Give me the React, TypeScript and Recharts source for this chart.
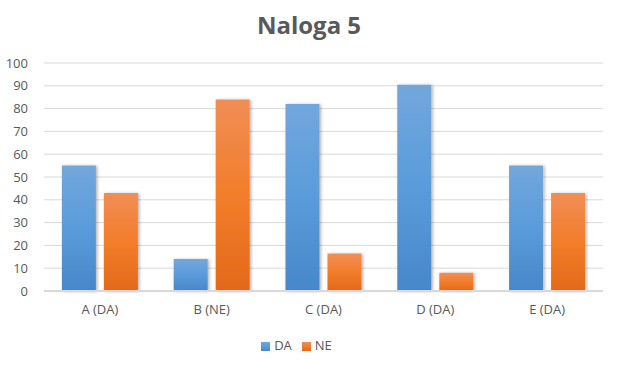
import { BarChart, Bar, XAxis, YAxis, CartesianGrid, Legend } from "recharts"

const categories = ["A (DA)", "B (NE)", "C (DA)", "D (DA)", "E (DA)"]
const daValues = [55, 14, 82, 90.5, 55]
const neValues = [43, 84, 16.5, 8, 43]
const yTicks = [0, 10, 20, 30, 40, 50, 60, 70, 80, 90, 100]

const data = categories.map((name, i) => ({
  name,
  DA: daValues[i],
  NE: neValues[i]
}))

const font = "'Open Sans', 'Liberation Sans', sans-serif"
const textColor = "#595959"

export default function App() {
  return (
    <div
      style={{
        position: "absolute",
        left: 0,
        top: 0,
        width: 618,
        height: 366,
        background: "#fff",
        fontFamily: font
      }}
    >
      <div
        style={{
          position: "absolute",
          top: 8,
          width: 618,
          textAlign: "center",
          fontSize: 24,
          fontWeight: 700,
          color: textColor
        }}
      >
        Naloga 5
      </div>
      <BarChart
        width={618}
        height={366}
        data={data}
        margin={{ top: 63, right: 15, bottom: 12, left: 0 }}
        barCategoryGap="16%"
        barGap={8}
      >
        <defs>
          <linearGradient id="gBlue" x1="0" y1="0" x2="0" y2="1">
            <stop offset="0%" stopColor="#72A7DC" />
            <stop offset="50%" stopColor="#5A9BDB" />
            <stop offset="100%" stopColor="#4787C9" />
          </linearGradient>
          <linearGradient id="gOrange" x1="0" y1="0" x2="0" y2="1">
            <stop offset="0%" stopColor="#F08E56" />
            <stop offset="50%" stopColor="#F27D2A" />
            <stop offset="100%" stopColor="#E2691A" />
          </linearGradient>
          <filter id="shadow" x="-20%" y="-5%" width="150%" height="115%">
            <feDropShadow dx="1.5" dy="0.5" stdDeviation="1.5" floodColor="#000" floodOpacity="0.3" />
          </filter>
        </defs>
        <CartesianGrid vertical={false} stroke="#D9D9D9" strokeWidth={1} />
        <XAxis
          dataKey="name"
          tickLine={false}
          axisLine={{ stroke: "#D9D9D9", strokeWidth: 2 }}
          tick={{ fill: textColor, fontSize: 13, fontFamily: font }}
          tickMargin={8}
          height={45}
        />
        <YAxis
          domain={[0, 100]}
          ticks={yTicks}
          interval={0}
          tickLine={false}
          axisLine={false}
          width={44}
          tick={{ fill: textColor, fontSize: 13, fontFamily: font }}
          tickMargin={10}
        />
        <Legend
          verticalAlign="bottom"
          iconType="square"
          iconSize={9}
          wrapperStyle={{ fontSize: 13, fontFamily: font }}
          formatter={(v: string) => <span style={{ color: textColor }}>{v}</span>}
        />
        <Bar dataKey="DA" fill="url(#gBlue)" filter="url(#shadow)" isAnimationActive={false} legendType="square" />
        <Bar dataKey="NE" fill="url(#gOrange)" filter="url(#shadow)" isAnimationActive={false} legendType="square" />
      </BarChart>
    </div>
  )
}
